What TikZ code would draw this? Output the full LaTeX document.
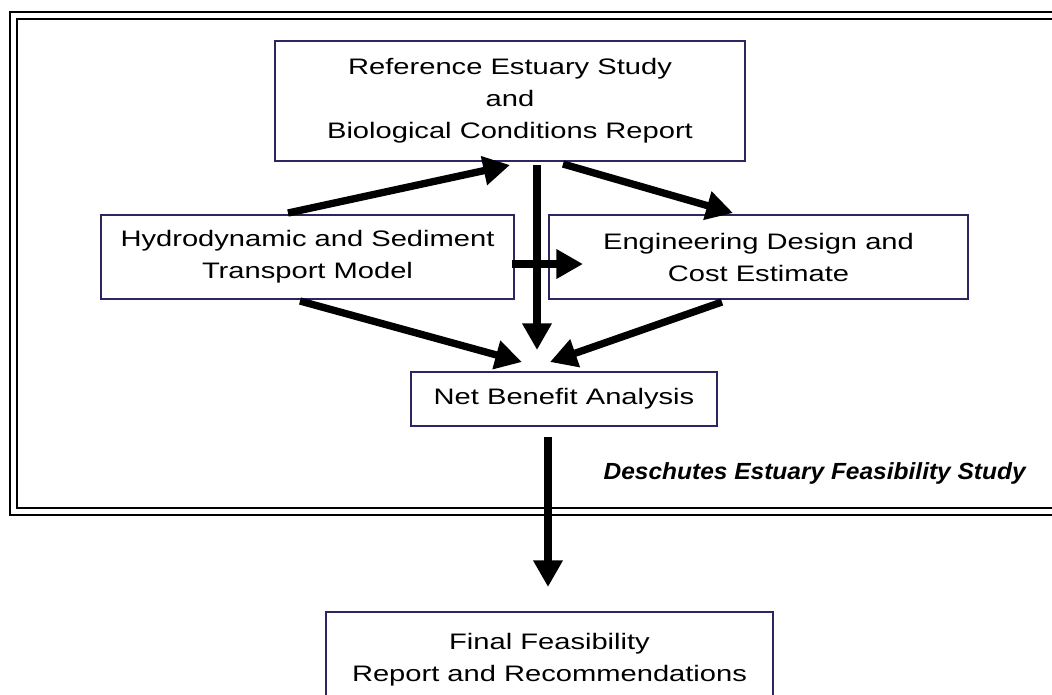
\documentclass[tikz,border=0pt]{standalone}
\usepackage{fontspec}
\setmainfont{Liberation Sans}[FakeStretch=1.3]
\newfontfamily\labelfont{Liberation Sans}[FakeStretch=1.05]
\usetikzlibrary{arrows.meta}
\definecolor{boxline}{HTML}{2C2662}
\begin{document}
\begin{tikzpicture}[x=0.75pt,y=-0.75pt,
  box/.style={draw=boxline, line width=1.5pt, fill=white, align=center, inner sep=0pt,
    font=\fontsize{16.8}{24}\selectfont},
  arr/.style={line width=5.5pt, -{Triangle[length=20pt,width=21pt]}},
  frameline/.style={draw=black, line width=1.5pt}]
\useasboundingbox (0,0) rectangle (1052,694);
% frame
\draw[frameline] (10,12) rectangle (1062,515);
\draw[frameline] (17,19) rectangle (1056,508);
% boxes
\node[box, minimum width=352.5pt, minimum height=90pt] (top) at (510,101)
  {Reference Estuary Study\\and\\Biological Conditions Report};
\node[box, minimum width=309.75pt, minimum height=63pt] (hydro) at (307.5,257)
  {Hydrodynamic and Sediment\\Transport Model};
\node[box, minimum width=314.25pt, minimum height=63pt] (eng) at (758.5,257)
  {Engineering Design and\\Cost Estimate};
\node[box, minimum width=229.5pt, minimum height=40.5pt] (net) at (564,399)
  {Net Benefit Analysis};
\node[box, minimum width=335.25pt, minimum height=72pt] (final) at (549.5,660)
  {Final Feasibility\\Report and Recommendations};
\node[anchor=east, inner sep=0pt, font=\labelfont\bfseries\itshape\fontsize{17.5}{20}\selectfont] (lbl) at (1026,473)
  {Deschutes Estuary Feasibility Study};
% arrow end points
\coordinate (h1) at (288,213);
\coordinate (t1) at (510,165);
\coordinate (t2) at (563,164);
\coordinate (e1) at (733,213);
\coordinate (t3) at (537,165);
\coordinate (n1) at (537,350);
\coordinate (h2) at (512,264);
\coordinate (e2) at (583,264);
\coordinate (h3) at (300,301);
\coordinate (n2) at (522,362);
\coordinate (e3) at (722,302);
\coordinate (n3) at (550,362);
\coordinate (n4) at (548,437);
\coordinate (f1) at (548,587);
% arrows
\draw[arr] (h1) -- (t1);
\draw[arr] (t2) -- (e1);
\draw[arr] (h2) -- (e2);
\draw[arr] (t3) -- (n1);
\draw[arr] (h3) -- (n2);
\draw[arr] (e3) -- (n3);
\draw[arr] (n4) -- (f1);
\end{tikzpicture}
\end{document}
